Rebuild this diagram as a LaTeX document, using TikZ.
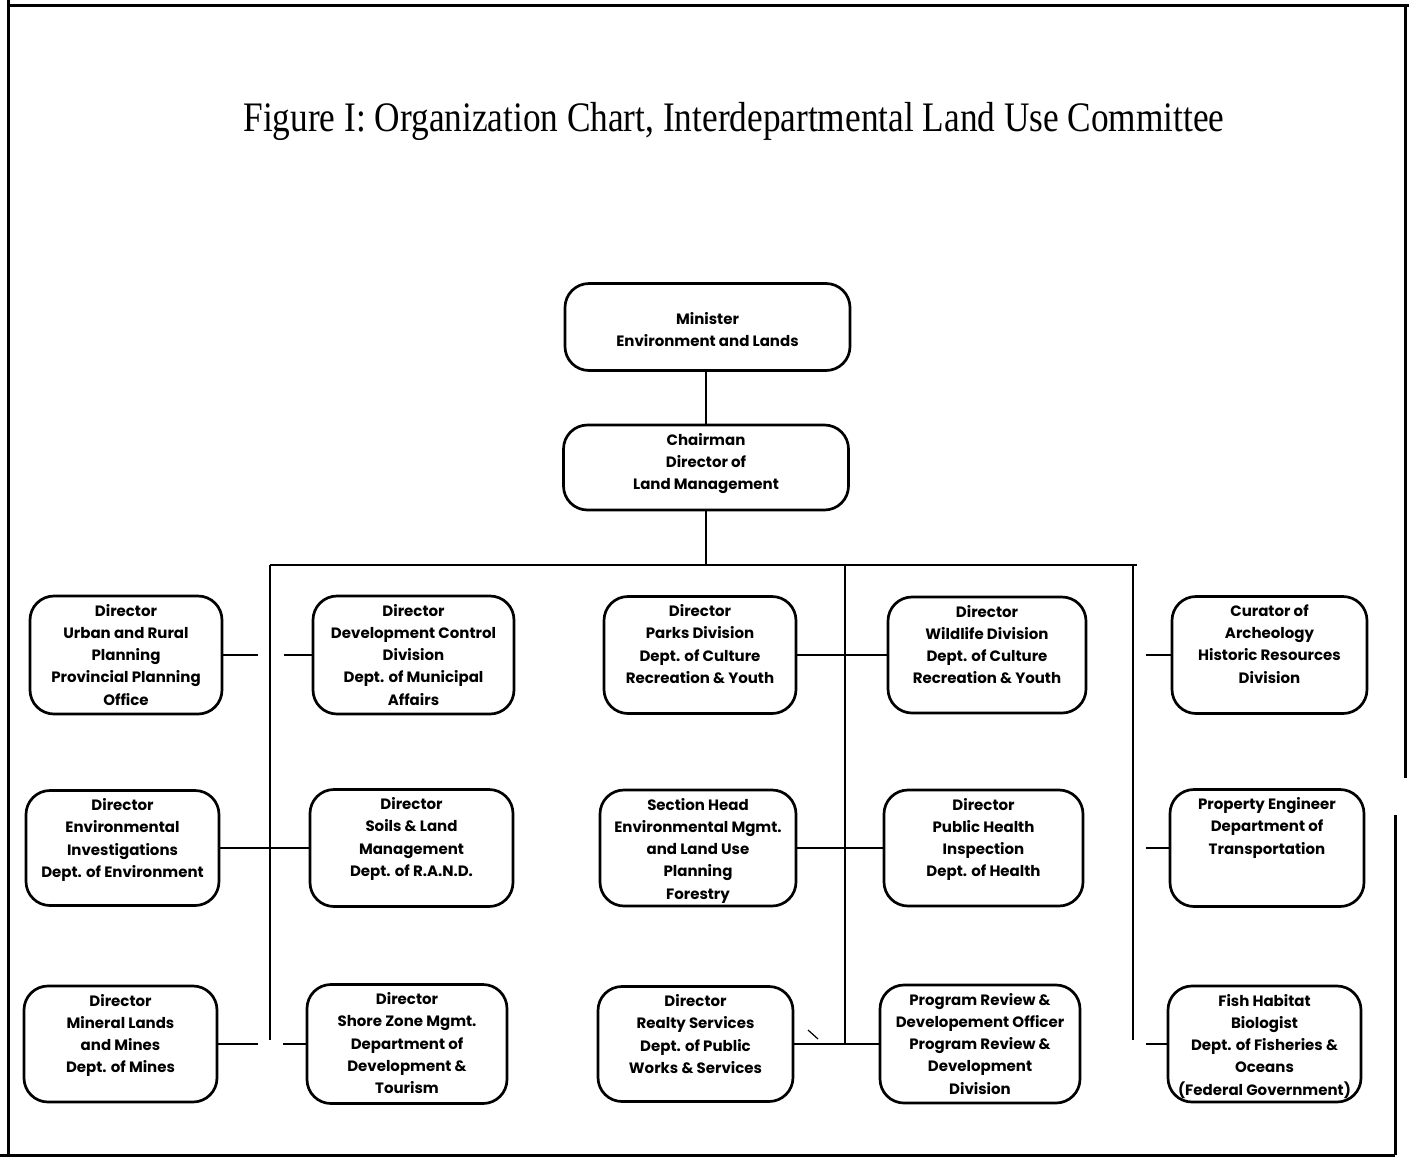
\documentclass[tikz,border=0pt]{standalone}
\usepackage{fontspec}
\setmainfont{Liberation Serif}
\newfontfamily\boxfont{Poppins}
% fixed-size, top-aligned text block inside each box
\newcommand{\boxbody}[3]{\parbox[c][#2pt][t]{#1pt}{\centering\vspace*{8pt}#3\par}}
\begin{document}
\begin{tikzpicture}[x=1pt,y=-1pt,
  orgbox/.style={draw, line width=2.7pt, rounded corners=24pt, inner sep=0pt,
    font=\boxfont\bfseries\fontsize{15}{22.3}\selectfont},
  link/.style={line width=2.4pt},
  pageframe/.style={line width=3pt}]
\useasboundingbox (0,0) rectangle (1409,1157);

% page frame
\draw[pageframe] (10,5) -- (1409,5);
\draw[pageframe] (8,0) -- (8,1157);
\draw[pageframe] (0,1155) -- (1395,1155);
\draw[pageframe] (1405,5) -- (1405,778);
\draw[pageframe] (1395,815) -- (1395,1155);

% title
\node[anchor=base, font=\fontsize{42}{50}\selectfont] (title) at (734,131)
  {\scalebox{0.84}[1]{Figure I: Organization Chart, Interdepartmental Land Use Committee}};

% top of the hierarchy
\node[orgbox] (min) at (707.5,327) {\boxbody{285}{87}{\vspace*{21pt}Minister\\Environment and Lands}};
\node[orgbox] (chair) at (706,467.5) {\boxbody{285}{85}{Chairman\\Director of\\Land Management}};

% row 1
\node[orgbox] (a1) at (126,655) {\boxbody{192}{118}{Director\\Urban and Rural\\Planning\\Provincial Planning\\Office}};
\node[orgbox] (b1) at (413.5,655) {\boxbody{201}{118}{Director\\Development Control\\Division\\Dept. of Municipal\\Affairs}};
\node[orgbox] (c1) at (700,655) {\boxbody{192}{117}{Director\\Parks Division\\Dept. of Culture\\Recreation \& Youth}};
\node[orgbox] (d1) at (987,655) {\boxbody{198}{116}{Director\\Wildlife Division\\Dept. of Culture\\Recreation \& Youth}};
\node[orgbox] (e1) at (1269.5,655) {\boxbody{195}{117}{Curator of\\Archeology\\Historic Resources\\Division}};

% row 2
\node[orgbox] (a2) at (122.5,848) {\boxbody{193}{115}{Director\\Environmental\\Investigations\\Dept. of Environment}};
\node[orgbox] (b2) at (411.5,848) {\boxbody{203}{117}{Director\\Soils \& Land\\Management\\Dept. of R.A.N.D.}};
\node[orgbox] (c2) at (698,848) {\boxbody{196}{116}{Section Head\\Environmental Mgmt.\\and Land Use\\Planning\\Forestry}};
\node[orgbox] (d2) at (983.5,848) {\boxbody{199}{116}{Director\\Public Health\\Inspection\\Dept. of Health}};
\node[orgbox] (e2) at (1267,848) {\boxbody{194}{117}{Property Engineer\\Department of\\Transportation}};

% row 3
\node[orgbox] (a3) at (120.5,1044) {\boxbody{193}{116}{Director\\Mineral Lands\\and Mines\\Dept. of Mines}};
\node[orgbox] (b3) at (407,1044) {\boxbody{200}{119}{Director\\Shore Zone Mgmt.\\Department of\\Development \&\\Tourism}};
\node[orgbox] (c3) at (695.5,1044) {\boxbody{195}{115}{Director\\Realty Services\\Dept. of Public\\Works \& Services}};
\node[orgbox] (d3) at (980,1044) {\boxbody{200}{118}{Program Review \&\\Developement Officer\\Program Review \&\\Development\\Division}};
\node[orgbox] (e3) at (1264.5,1044) {\boxbody{193}{116}{Fish Habitat\\Biologist\\Dept. of Fisheries \&\\Oceans\\(Federal Government)}};

% junction points of the trunk lines
\coordinate (busC) at (706,565);
\coordinate (busL) at (270,565);
\coordinate (busR) at (1137,565);
\coordinate (trL) at (270,1040);
\coordinate (busM) at (845,565);
\coordinate (trM) at (845,1044);
\coordinate (busRt) at (1133,565);
\coordinate (trR) at (1133,1040);
% free ends of the short stubs
\coordinate (s1a) at (258,655);
\coordinate (s1b) at (284,655);
\coordinate (s3a) at (258,1044);
\coordinate (s3b) at (283,1044);
\coordinate (r1) at (1146,655);
\coordinate (r2) at (1146,848);
\coordinate (r3) at (1146,1044);

% hierarchy lines
\draw[link] (chair.north) -- (chair.north |- min.south);
\draw[link] (chair.south) -- (busC);
\draw[link] (busL) -- (busR);
\draw[link] (busL) -- (trL);
\draw[link] (busM) -- (trM);
\draw[link] (busRt) -- (trR);

% row connectors
\draw[link] (a1.east) -- (s1a);
\draw[link] (s1b) -- (b1.west);
\draw[link] (c1.east) -- (d1.west);
\draw[link] (r1) -- (e1.west);

\draw[link] (a2.east) -- (b2.west);
\draw[link] (c2.east) -- (d2.west);
\draw[link] (r2) -- (e2.west);

\draw[link] (a3.east) -- (s3a);
\draw[link] (s3b) -- (b3.west);
\draw[link] (c3.east) -- (d3.west);
\draw[link] (r3) -- (e3.west);

% stray tick beside the realty box
\coordinate (tk1) at (808,1030);
\coordinate (tk2) at (818,1039);
\draw[line width=1.2pt] (tk1) -- (tk2);
\end{tikzpicture}
\end{document}
